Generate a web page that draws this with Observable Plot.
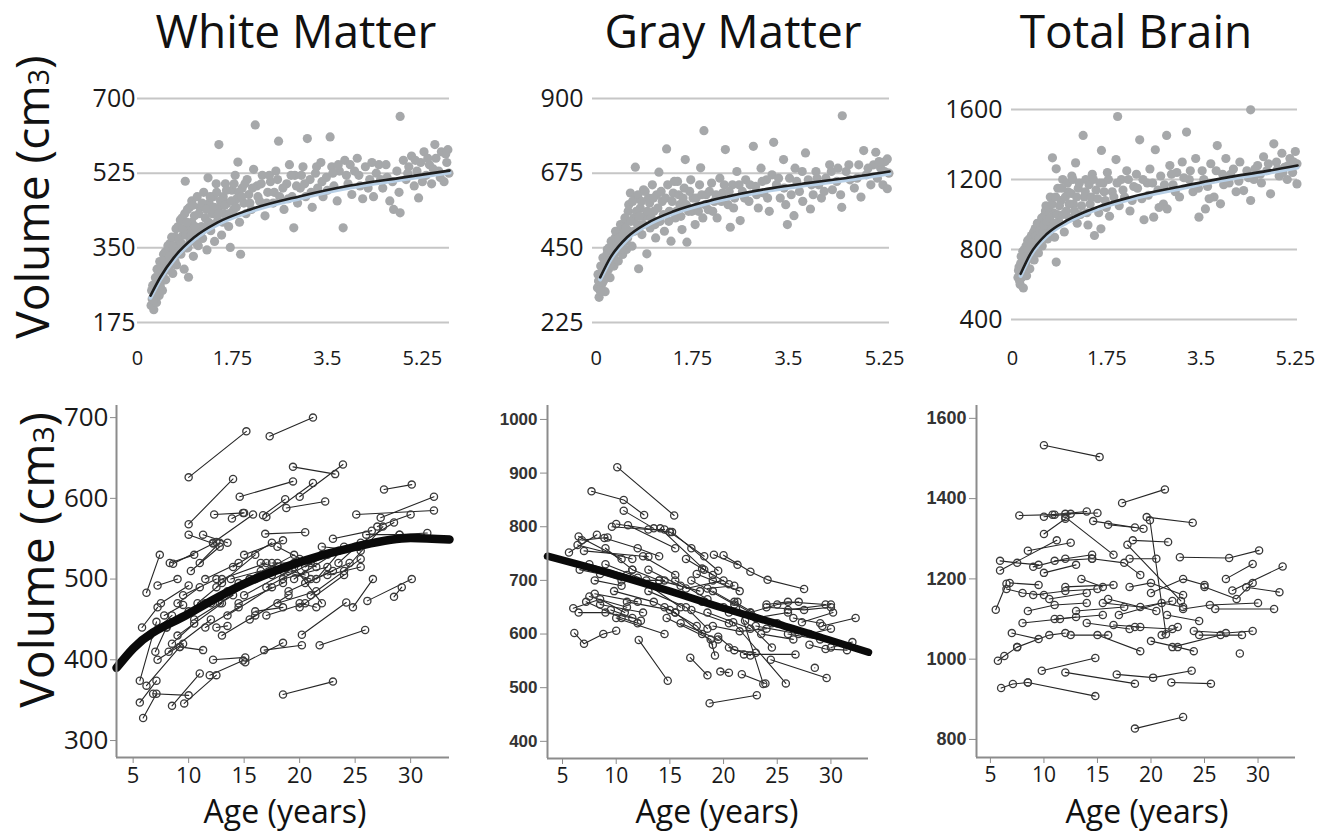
<!DOCTYPE html>
<html><head><meta charset="utf-8">
<script src="https://cdn.jsdelivr.net/npm/d3@7"></script>
<script src="https://cdn.jsdelivr.net/npm/@observablehq/plot@0.6"></script>
<style>
body{margin:0;background:#fff;}
#page{position:relative;width:1335px;height:833px;overflow:hidden;font-family:"Open Sans",sans-serif;background:#fff;}
#labels{position:absolute;left:0;top:0;pointer-events:none;}
</style></head>
<body><div id="page"></div>
<script>
// ---------- top row: cross-sectional infant scans (age in years, volume cm3) ----------
const topXTicks = [0, 1.75, 3.5, 5.25];
const wmTicks = [175, 350, 525, 700];
const gmTicks = [225, 450, 675, 900];
const tbTicks = [400, 800, 1200, 1600];

const wmPoints = [[0.25,215],[0.27,230],[0.28,262],[0.30,205],[0.31,245],[0.33,280],[0.35,222],[0.36,300],[0.38,255],[0.40,238],[0.41,318],[0.43,270],[0.45,290],[0.46,250],[0.48,335],[0.50,305],[0.52,275],[0.55,320],[0.57,345],[0.58,298],
[0.60,360],[0.62,330],[0.65,290],[0.67,345],[0.70,375],[0.72,310],[0.75,400],[0.77,355],[0.80,335],[0.82,420],[0.84,380],[0.86,300],[0.88,506],[0.90,350],[0.92,440],[0.94,281],[0.95,395],[0.97,365],[1.0,410],[1.0,460],
[1.03,330],[1.05,425],[1.08,390],[1.1,470],[1.12,355],[1.15,445],[1.18,400],[1.2,372],[1.22,480],[1.25,420],[1.28,345],[1.3,514],[1.32,455],[1.35,390],[1.38,430],[1.4,470],[1.42,365],[1.45,500],[1.48,415],[1.5,592],[1.5,445],
[1.55,380],[1.58,470],[1.6,430],[1.62,500],[1.65,455],[1.68,400],[1.71,351],[1.74,485],[1.77,440],[1.8,520],[1.83,465],[1.85,551],[1.88,410],[1.9,335],[1.93,490],[1.96,455],[2.0,430],[2.02,510],[2.05,475],
[2.1,440],[2.14,534],[2.17,638],[2.2,495],[2.25,460],[2.3,520],[2.35,425],[2.4,480],[2.45,505],[2.5,455],[2.55,530],[2.6,600],[2.62,470],[2.7,440],[2.75,500],[2.8,545],[2.85,470],[2.88,397],[2.9,520],[2.95,455],[3.0,490],
[3.05,540],[3.1,470],[3.13,606],[3.18,510],[3.22,445],[3.28,525],[3.32,490],[3.38,550],[3.42,470],[3.48,515],[3.55,610],[3.58,540],[3.62,495],[3.68,460],[3.72,530],[3.79,397],[3.82,555],[3.88,500],[3.95,475],
[4.0,530],[4.05,560],[4.1,495],[4.15,465],[4.2,540],[4.28,510],[4.35,470],[4.4,525],[4.45,545],[4.52,490],[4.6,515],[4.65,460],[4.72,440],[4.78,530],[4.84,432],[4.84,658],[4.9,555],
[4.95,510],[5.0,540],[5.05,565],[5.1,495],[5.15,530],[5.18,467],[5.22,550],[5.28,575],[5.32,520],[5.38,545],[5.42,500],[5.48,592],[5.5,560],[5.55,530],[5.6,575],[5.65,505],[5.7,550],[5.72,580],[5.74,525],
[0.26,250],[0.29,228],[0.32,265],[0.34,240],[0.37,282],[0.39,300],[0.42,260],[0.44,310],[0.47,285],[0.49,320],[0.51,340],[0.53,300],[0.56,355],[0.59,330],[0.61,310],[0.63,375],[0.66,355],[0.69,320],[0.71,395],[0.74,340],[0.76,370],[0.79,415],[0.81,360],[0.83,395],[0.87,430],[0.89,380],[0.91,410],[0.93,350],[0.96,445],[0.99,380],
[1.02,450],[1.06,400],[1.09,360],[1.13,430],[1.16,385],[1.19,455],[1.23,395],[1.27,440],[1.31,410],[1.34,470],[1.37,405],[1.41,445],[1.46,480],[1.49,430],[1.53,460],[1.57,410],[1.61,450],[1.64,485],[1.69,430],[1.73,460],[1.78,500],[1.82,445],[1.86,480],[1.92,470],[1.98,500],
[2.07,455],[2.12,490],[2.22,470],[2.28,500],[2.38,455],[2.43,520],[2.52,480],[2.58,510],[2.68,490],[2.78,465],[2.83,520],[2.93,495],[3.02,520],[3.08,500],[3.2,480],[3.3,540],[3.4,505],[3.5,485],[3.6,525],[3.7,545],[3.85,520],[3.92,545],[4.08,520],[4.25,490],[4.32,550],[4.48,510],[4.58,545],[4.7,505],[4.82,480],[4.98,525],[5.12,555],[5.25,505],[5.35,560],[5.45,535],[5.58,515],[5.68,570]];
const wmCurve = [[0.24,238],[0.42,281],[0.67,327],[1.04,374],[1.47,409],[2.08,440],[3.0,471],[3.92,496],[4.84,514],[5.75,531]];

const gmPoints = [[0.02,330],[0.03,370],[0.05,301],[0.06,350],[0.08,395],[0.10,340],[0.12,420],[0.14,372],[0.16,318],[0.18,400],[0.20,445],[0.22,385],[0.25,360],[0.27,470],[0.29,420],[0.32,395],[0.34,480],[0.37,440],[0.40,410],[0.42,500],[0.45,460],[0.48,430],[0.5,520],[0.53,470],[0.55,445],[0.58,560],[0.6,500],[0.62,615],[0.65,455],[0.68,540],[0.71,693],[0.72,600],[0.75,520],[0.77,387],[0.8,570],[0.83,490],[0.86,625],[0.88,545],[0.92,432],[0.95,600],[0.98,510],
[1.02,640],[1.05,560],[1.08,480],[1.1,610],[1.14,678],[1.16,530],[1.2,590],[1.24,500],[1.28,748],[1.3,640],[1.33,560],[1.36,470],[1.4,615],[1.44,540],[1.48,650],[1.52,580],[1.56,505],[1.6,630],[1.62,716],[1.65,467],[1.68,560],[1.72,655],[1.76,600],[1.8,520],[1.84,575],[1.88,640],[1.9,691],[1.94,540],[1.96,803],[2.0,610],[2.04,565],
[2.1,645],[2.15,590],[2.2,540],[2.25,660],[2.3,615],[2.35,746],[2.4,580],[2.44,512],[2.48,640],[2.52,600],[2.56,680],[2.62,532],[2.66,620],[2.72,655],[2.78,590],[2.86,756],[2.9,635],[2.95,570],[3.0,690],
[3.05,615],[3.1,655],[3.15,560],[3.23,768],[3.28,640],[3.35,600],[3.41,716],[3.45,580],[3.48,520],[3.52,660],[3.6,547],[3.62,690],[3.7,620],[3.76,590],[3.81,736],[3.86,655],[3.9,567],[3.95,610],
[4.0,680],[4.05,640],[4.1,600],[4.18,660],[4.25,700],[4.3,625],[4.38,650],[4.45,610],[4.47,572],[4.48,848],[4.55,680],[4.62,655],[4.7,630],[4.78,700],[4.82,603],[4.87,743],[4.92,670],[5.0,640],[5.05,700],[5.09,738],[5.12,660],[5.18,690],[5.22,640],[5.26,710],[5.3,628],[5.3,718],[5.33,675],
[0.04,350],[0.07,320],[0.09,370],[0.11,395],[0.13,350],[0.15,410],[0.17,380],[0.19,430],[0.21,410],[0.23,450],[0.26,400],[0.28,440],[0.3,460],[0.33,430],[0.35,500],[0.38,460],[0.41,480],[0.44,520],[0.46,445],[0.49,490],[0.52,540],[0.54,510],[0.57,480],[0.59,580],[0.63,530],[0.66,590],[0.69,500],[0.73,560],[0.76,610],[0.79,545],[0.82,590],[0.85,520],[0.89,620],[0.93,560],[0.97,585],
[1.0,540],[1.04,600],[1.07,520],[1.12,570],[1.18,620],[1.22,550],[1.26,600],[1.32,530],[1.38,590],[1.42,650],[1.46,560],[1.5,610],[1.54,545],[1.58,600],[1.64,580],[1.7,620],[1.74,560],[1.82,600],[1.86,560],[1.92,610],[1.98,580],
[2.06,620],[2.12,560],[2.18,610],[2.28,590],[2.33,640],[2.42,620],[2.5,570],[2.6,640],[2.7,600],[2.8,640],[2.92,610],[3.02,650],[3.12,600],[3.2,670],[3.32,660],[3.42,630],[3.55,610],[3.65,650],[3.75,680],[3.92,640],[4.02,660],[4.15,620],[4.28,680],[4.4,690],[4.6,700],[4.75,660],[4.95,690],[5.15,710],[5.25,680]];
const gmCurve = [[0.07,361],[0.26,422],[0.56,482],[0.92,524],[1.41,560],[2.02,590],[2.6,612],[3.2,630],[3.84,645],[4.45,658],[5.34,680]];

const tbPoints = [[0.1,640],[0.12,700],[0.14,600],[0.16,760],[0.18,680],[0.2,580],[0.22,800],[0.24,720],[0.26,650],[0.28,850],[0.3,760],[0.32,690],[0.35,880],[0.38,800],[0.4,740],[0.42,920],[0.45,840],[0.48,780],[0.5,950],[0.52,880],[0.55,820],[0.58,990],[0.6,900],[0.62,1050],[0.65,860],[0.68,960],[0.7,1100],[0.72,920],[0.74,1324],[0.76,1010],[0.78,870],[0.81,1261],[0.81,728],[0.84,1150],[0.86,960],[0.9,1080],[0.93,1200],[0.96,900],[1.0,1020],
[1.03,1130],[1.06,980],[1.1,1220],[1.13,1060],[1.17,1295],[1.2,950],[1.22,1150],[1.26,1000],[1.31,1452],[1.33,1100],[1.36,1200],[1.4,940],[1.44,1060],[1.48,1230],[1.52,880],[1.55,1140],[1.6,1010],[1.64,918],[1.65,1366],[1.68,1180],[1.72,1080],[1.76,1240],[1.8,990],[1.85,1130],[1.92,1314],[1.95,1560],[1.98,1050],
[2.02,1200],[2.08,1100],[2.12,1250],[2.18,1020],[2.25,1160],[2.3,1230],[2.36,1427],[2.4,1090],[2.44,970],[2.5,1180],[2.55,1260],[2.62,985],[2.65,1370],[2.7,1140],[2.75,1220],[2.8,1060],[2.86,1452],[2.87,1032],[2.92,1280],[2.98,1170],
[3.05,1240],[3.1,1100],[3.15,1300],[3.23,1471],[3.28,1200],[3.35,1130],[3.4,1320],[3.46,985],[3.52,1250],[3.58,1032],[3.62,1160],[3.68,1290],[3.74,1100],[3.8,1394],[3.86,1061],[3.9,1230],[3.96,1320],
[4.02,1180],[4.1,1260],[4.15,1130],[4.22,1300],[4.29,1137],[4.35,1250],[4.42,1598],[4.42,1080],[4.48,1200],[4.55,1280],[4.6,1230],[4.66,1330],[4.72,1250],[4.79,1118],[4.85,1404],[4.9,1300],[4.95,1220],[5.0,1350],[5.05,1270],[5.1,1200],[5.15,1320],[5.2,1240],[5.25,1360],[5.28,1175],[5.28,1290],
[0.11,680],[0.13,620],[0.15,720],[0.17,640],[0.19,790],[0.21,700],[0.23,760],[0.25,820],[0.27,740],[0.29,800],[0.31,860],[0.34,770],[0.36,840],[0.39,900],[0.41,820],[0.44,880],[0.46,950],[0.49,860],[0.51,910],[0.54,980],[0.56,900],[0.59,940],[0.61,1020],[0.64,960],[0.67,1040],[0.69,980],[0.73,1060],[0.77,950],[0.8,1100],[0.83,1000],[0.87,1050],[0.91,1150],[0.94,1000],[0.98,1100],
[1.02,1180],[1.05,1060],[1.09,1120],[1.12,1200],[1.15,1020],[1.19,1100],[1.24,1180],[1.28,1050],[1.35,1130],[1.38,1010],[1.42,1170],[1.46,1100],[1.5,1200],[1.58,1090],[1.62,1180],[1.7,1130],[1.74,1040],[1.78,1200],[1.88,1100],[1.94,1180],
[2.05,1140],[2.15,1200],[2.22,1080],[2.32,1150],[2.42,1200],[2.52,1110],[2.6,1180],[2.72,1040],[2.82,1170],[2.95,1230],[3.02,1130],[3.18,1210],[3.3,1250],[3.45,1150],[3.55,1200],[3.65,1090],[3.78,1250],[3.92,1170],[4.05,1230],[4.2,1190],[4.38,1210],[4.5,1260],[4.62,1180],[4.75,1290],[4.92,1260],[5.02,1240],[5.12,1280],[5.22,1300]];
const tbCurve = [[0.15,661],[0.33,775],[0.64,890],[1.01,966],[1.57,1042],[2.19,1099],[3.12,1160],[4.04,1215],[4.66,1245],[5.29,1280]];

// ---------- bottom row: longitudinal scans (age, volume, age, volume, ...) per subject ----------
const bottomXTicks = [5, 10, 15, 20, 25, 30];
const wmBottomTicks = [300, 400, 500, 600, 700];
const gmBottomTicks = [400, 500, 600, 700, 800, 900, 1000];
const tbBottomTicks = [800, 1000, 1200, 1400, 1600];

const wmTracks = [[10.0,626,15.2,683],[17.3,677,21.2,700],[19.4,639,23.2,630],[20.0,602,23.9,642],[10.0,568,14.0,624],[14.6,602,19.4,621],[17.0,577,21.2,619],[13.9,575,14.9,582],[25.1,580,32.1,585],[27.6,611,30.1,617],[27.3,576,32.1,602],[16.7,579,18.7,599],[18.8,588,22.3,596],[16.9,556,20.5,558],[10.0,555,12.2,544],[6.2,483,7.4,530],[8.6,519,12.5,546],[5.6,374,7.1,447],[5.6,347,7.1,374],[5.9,328,7.1,358],[6.2,368,9.2,416],[6.8,358,10.0,356],[8.5,343,11.0,383],[9.6,346,12.5,381],[11.9,381,14.9,399],[12.2,400,15.1,403],[15.1,397,18.5,421],[16.8,412,20.2,418],[18.5,357,23.0,373],[21.8,418,25.9,437],[20.2,431,24.2,471],[24.8,465,26.6,500],[26.1,473,30.1,500],[28.5,478,29.2,490],[9.2,416,11.3,412],
[7.5,470,10.0,492],[7.8,455,9.5,468],[8.3,520,10.5,530],[8.0,440,11.5,470],[8.5,420,10.5,445],[8.2,410,12.0,450],[9.0,430,13.0,470],[9.5,480,12.5,500],[10.0,460,13.5,485],[10.2,510,12.8,540],[10.5,450,14.0,480],[11.0,520,12.8,545],[11.5,440,14.5,465],[12.0,470,15.5,500],[12.5,440,13.5,442],[12.5,490,16.0,530],[13.0,500,17.0,520],[13.5,455,17.5,490],[14.0,515,17.5,545],[14.5,470,18.5,495],[15.0,480,19.0,510],[15.0,530,18.5,548],[15.5,500,19.5,530],[16.0,460,18.5,465],[16.5,520,20.5,505],[17.0,490,21.0,520],[17.5,505,22.0,530],[18.0,470,21.5,485],[18.0,540,21.5,515],[18.5,500,22.5,515],[19.0,485,23.0,510],[19.5,515,22.0,470],[20.0,465,24.0,505],[20.5,495,24.5,520],[21.0,480,25.5,525],[22.0,540,25.5,535],[22.5,505,25.5,515],[23.0,550,26.5,560],[24.0,510,27.5,565],[25.0,540,28.5,570],[26.0,555,29.0,555],[27.0,565,30.0,580],[29.0,555,31.5,557],[11.3,555,13.5,545],[5.8,440,7.2,465],[7.2,400,9.5,420],[12.3,580,15.0,582],[7.2,492,9.0,500],[12.2,545,15.8,580],
[9.0,470,11.0,490],[10.8,470,13.0,495],[11.5,500,14.5,520],[12.8,470,16.5,505],[13.8,500,16.5,510],[14.5,495,18.0,520],[16.0,500,20.0,525],[17.5,520,19.5,520],[18.5,510,21.0,500],[19.5,500,23.5,535],[20.5,515,22.5,530],[21.5,500,24.0,540],[23.5,520,25.5,545],[15.5,450,19.0,480],[13.0,430,16.0,455],[17.0,455,20.5,470],[20.0,470,21.5,465],[6.5,430,8.5,455],[7.0,410,8.0,440]];
const wmFit = [[3.5,390],[5,414],[10,457],[15,494],[20,521],[25,540],[30,551],[33.5,549]];

const gmTracks = [[10.1,911,15.4,821],[7.7,866,10.7,850,12.6,822],[10.7,830,13.5,797],[9.6,800,13.0,795,14.5,795],[10.0,805,15.0,790],[11.1,803,15.5,760],[15.0,790,18.2,745],[19.1,748,21.3,729],[20.0,747,22.5,716,24.1,701,27.5,684],[6.5,782,10.5,740],[5.6,752,8.2,785],[6.4,766,11.5,740],[6.8,775,9.2,780],[8.9,779,12.0,760,14.0,745],[6.6,720,8.5,712,10.5,700],[7.5,730,11.0,710],[9.0,730,12.8,700,14.5,700],[7.0,755,13.0,744],[12.5,745,15.5,710],[14.1,797,18.2,720],[15.2,790,17.0,760,19.5,718],[17.5,712,19.0,700,21.5,680],[16.5,685,20.0,700],[18.0,722,20.5,693],[14.0,700,17.8,680],[12.0,705,16.0,650],
[6.0,648,8.5,665,10.8,640],[6.5,640,9.0,640,11.5,630],[7.5,670,11.0,650],[8.0,675,12.0,660],[7.2,660,10.5,630,12.0,620],[8.5,655,12.5,640],[9.5,645,12.3,625],[10.0,630,14.5,600],[11.0,660,15.0,645],[9.8,680,13.5,660,15.5,640],[6.1,602,7.0,582,8.8,600,10.0,606],[12.1,589,14.8,513],[14.5,650,17.5,615,19.0,580],[14.7,630,18.8,590,19.2,560],[15.5,640,18.0,600],[16.0,620,19.5,590],[16.9,556,18.5,523],[18.7,471,23.1,486],[19.7,530,20.5,528],[21.7,525,23.9,508],[24.4,552,29.6,518],[28.5,537],[21.9,562,26.7,562],[21.3,660,23.7,507],[22.0,625,24.5,575],[20.9,622,25.8,508],[18.5,640,22.5,610],[20.0,650,23.0,630,26.0,640],[22.5,640,25.0,655,27.0,660],[24.0,650,27.5,645,30.0,650],[25.0,620,28.0,600,30.0,610],[27.3,622,30.2,640],[29.2,615,32.3,630],[28.0,580,29.5,572,31.5,570],[26.0,600,29.0,590],[30.0,575,32.0,585],[23.5,600,26.5,590],[19.0,615,21.5,605,24.0,610],[17.0,645,20.5,620],[13.0,680,16.5,650,18.5,610],[24.0,655,26.0,660,29.5,655],[26.0,645,30.0,655],[20.5,575,22.5,560],[19.5,595,21.0,570,23.0,565],[18.5,685,21.0,690],
[11.5,720,14.0,700],[13.0,720,16.0,690],[15.5,700,18.5,665],[17.0,700,21.0,655],[19.0,680,22.5,640],[21.0,660,24.5,620],[8.0,700,10.5,690],[9.0,760,11.5,720],[16.5,740,19.0,710],[23.0,615,27.0,600],[26.5,630,29.0,620],[18.0,660,20.5,640]];
const gmFit = [[3.6,745],[10,710],[15,680],[20,648],[25,619],[30,588],[33.5,566]];

const tbTracks = [[10.0,1533,15.2,1504],[17.3,1389,21.3,1423],[7.7,1358,11.0,1360],[10.0,1355,12.5,1362],[10.8,1360,14.0,1368],[12.0,1362,15.0,1364],[10.0,1312,12.0,1350],[14.6,1344,19.3,1325],[16.0,1335,18.5,1328],[19.6,1354,23.9,1340],[19.9,1346,21.4,1062],[12.0,1354,16.5,1260],[18.3,1296,21.6,1292],[17.8,1285,22.8,1145],[22.7,1254,27.3,1252,30.1,1271],[27.0,1200,29.5,1237],[27.6,1171,32.3,1231],[28.9,1179,32.0,1167],[5.9,1221,11.2,1296],[5.9,1245,7.5,1240,9.5,1235],[8.5,1270,12.5,1290],[9.0,1230,12.0,1250,14.5,1260],[10.0,1215,13.0,1235],[5.5,1123,6.5,1188],[6.5,1175,8.0,1165,10.0,1160],[6.8,1190,9.5,1185],[5.7,996,6.3,1008,7.5,1030],[6.0,928,7.1,938,8.5,942],[8.5,942,14.8,908],[9.8,971,14.8,1003],[12.0,967,18.5,939],[16.8,962,20.2,954,23.8,971],[21.9,942,25.6,939],[18.5,827,23.0,856],[28.3,1014],
[7.5,1030,10.5,1060,12.0,1065],[7.0,1065,9.5,1050],[8.0,1090,11.5,1100,13.0,1105],[8.5,1120,11.0,1135,14.0,1140],[9.0,1160,12.0,1170,15.0,1175],[10.5,1150,14.0,1165],[11.0,1100,15.5,1110],[12.0,1180,16.5,1185],[13.0,1120,17.5,1130],[14.0,1090,18.0,1075],[15.0,1060,19.0,1020],[15.5,1140,19.0,1130,22.0,1145],[16.0,1150,20.5,1120],[17.0,1110,21.0,1140,23.0,1130],[18.0,1180,20.0,1190,23.0,1160],[18.5,1080,22.0,1075],[20.0,1045,22.5,1030,24.0,1020],[20.0,1165,23.0,1200,25.0,1185],[21.5,1110,24.5,1095],[22.0,1030,26.5,1060],[23.0,1125,25.5,1135,30.0,1140],[24.0,1070,27.0,1065,29.5,1070],[25.0,1180,28.0,1150,29.5,1190],[26.0,1125,31.5,1125],[24.5,1060,28.5,1060],[13.5,1200,15.5,1180],[14.5,1250,17.5,1240,19.0,1210],[18.0,1250,20.5,1250],[11.0,1245,14.5,1250],[12.5,1060,16.0,1060],[16.5,1085,19.0,1080],[21.0,1060,22.5,1080]];

// ---------- drawing ----------
const page = document.getElementById("page");
const FONT = "Open Sans";

function place(svg, left, top) {
  svg.style.position = "absolute";
  svg.style.left = left + "px";
  svg.style.top = top + "px";
  svg.style.margin = "0";
  page.appendChild(svg);
}

function topPanel(o) {
  const data = o.pts.map(([x, y]) => ({x, y}));
  const cv = o.curve.map(([x, y]) => ({x, y}));
  return Plot.plot({
    width: o.width, height: 290,
    marginLeft: o.mL, marginRight: o.mR, marginTop: o.mT, marginBottom: o.mB,
    style: {fontFamily: FONT, background: "transparent", overflow: "visible"},
    x: {domain: o.xDomain}, y: {domain: o.yDomain},
    marks: [
      Plot.ruleY(o.yTicks, {stroke: "#c6c6c6", strokeWidth: 2}),
      Plot.axisY({ticks: o.yTicks, tickSize: 0, tickPadding: o.yPad, fontSize: 25, fontFamily: FONT, color: "#1a1a1a", label: null, tickFormat: d => String(d)}),
      Plot.axisX({ticks: topXTicks, tickSize: 0, tickPadding: o.xPad, fontSize: 20, fontFamily: FONT, color: "#1a1a1a", label: null, tickFormat: d => String(d)}),
      Plot.dot(data, {x: "x", y: "y", r: 4.6, fill: "#a6a8aa"}),
      Plot.line(cv, {x: "x", y: "y", curve: "monotone-x", stroke: "#b7cfe6", strokeWidth: 4, dy: 2}),
      Plot.line(cv, {x: "x", y: "y", curve: "monotone-x", stroke: "#1e1e1e", strokeWidth: 2.6})
    ]
  });
}

function rowsOf(tracks) {
  const rows = [];
  tracks.forEach((t, i) => {
    for (let j = 0; j < t.length; j += 2) rows.push({id: i, age: t[j], vol: t[j + 1]});
  });
  return rows;
}

function bottomPanel(o) {
  const rows = rowsOf(o.tracks);
  const marks = [
    Plot.line(rows, {x: "age", y: "vol", z: "id", stroke: "#262626", strokeWidth: 1.1}),
    Plot.dot(rows, {x: "age", y: "vol", r: 3.6, stroke: "#3a3a3a", strokeWidth: 1.3, fill: "none"})
  ];
  if (o.fit) {
    marks.push(Plot.line(o.fit.map(([x, y]) => ({x, y})), {x: "x", y: "y", curve: "monotone-x", stroke: "#0a0a0a", strokeWidth: o.fitWidth}));
  }
  marks.push(
    Plot.ruleX([o.xDomain[0]], {stroke: "#8c8c8c", strokeWidth: 2}),
    Plot.ruleY([o.yDomain[0]], {stroke: "#8c8c8c", strokeWidth: 2}),
    Plot.axisY({ticks: o.yTicks, tickSize: o.yTickSize, tickPadding: o.yPad, fontSize: o.yFont, fontFamily: o.yFamily, fontWeight: o.yWeight, color: o.yColor, stroke: "#8c8c8c", label: null, tickFormat: d => String(d)}),
    Plot.axisX({ticks: bottomXTicks, tickSize: 6, tickPadding: o.xPad, fontSize: o.xFont, fontFamily: FONT, color: "#1a1a1a", stroke: "#8c8c8c", label: null, tickFormat: d => String(d)})
  );
  return Plot.plot({
    width: o.width, height: 440,
    marginLeft: o.mL, marginRight: o.mR, marginTop: 15, marginBottom: o.mB,
    style: {fontFamily: FONT, background: "transparent", overflow: "visible"},
    x: {domain: o.xDomain}, y: {domain: o.yDomain},
    marks
  });
}

place(topPanel({pts: wmPoints, curve: wmCurve, xDomain: [0, 5.75], yDomain: [175, 700], yTicks: wmTicks,
  width: 460, mL: 137, mR: 11, mT: 18, mB: 48, yPad: 2, xPad: 28}), 0, 80);
place(topPanel({pts: gmPoints, curve: gmCurve, xDomain: [-0.07, 5.34], yDomain: [225, 900], yTicks: gmTicks,
  width: 440, mL: 132, mR: 11, mT: 18, mB: 48, yPad: 9, xPad: 28}), 460, 80);
place(topPanel({pts: tbPoints, curve: tbCurve, xDomain: [-0.02, 5.29], yDomain: [400, 1600], yTicks: tbTicks,
  width: 435, mL: 111, mR: 38, mT: 29, mB: 51, yPad: 9, xPad: 31}), 900, 80);

place(bottomPanel({tracks: wmTracks, fit: wmFit, fitWidth: 8.5, xDomain: [3.5, 33.5], yDomain: [279, 715], yTicks: wmBottomTicks,
  width: 460, mL: 116, mR: 11, mB: 73, yTickSize: 6, yPad: 2, yFont: 26, yFamily: FONT, yWeight: "normal", yColor: "#1a1a1a", xPad: 4, xFont: 22}), 0, 390);
place(bottomPanel({tracks: gmTracks, fit: gmFit, fitWidth: 7.5, xDomain: [3.6, 33.5], yDomain: [368, 1026], yTicks: gmBottomTicks,
  width: 440, mL: 87, mR: 32, mB: 72, yTickSize: 7, yPad: 3, yFont: 17, yFamily: "Liberation Sans", yWeight: "bold", yColor: "#333", xPad: 4, xFont: 21}), 460, 390);
place(bottomPanel({tracks: tbTracks, fit: null, xDomain: [3.7, 33.5], yDomain: [755, 1632], yTicks: tbBottomTicks,
  width: 435, mL: 76, mR: 40, mB: 73, yTickSize: 7, yPad: 3, yFont: 18, yFamily: "Liberation Sans", yWeight: "bold", yColor: "#333", xPad: 4, xFont: 21}), 900, 390);

// ---------- titles and axis labels (static text) ----------
const titles = [["White Matter", 296], ["Gray Matter", 733], ["Total Brain", 1136]];
const ageLabelX = [285, 717, 1147];
const NS = "http://www.w3.org/2000/svg";
const lab = document.createElementNS(NS, "svg");
lab.setAttribute("id", "labels");
lab.setAttribute("width", 1335);
lab.setAttribute("height", 833);
function addText(txt, x, y, size, extra) {
  const t = document.createElementNS(NS, "text");
  t.setAttribute("x", x); t.setAttribute("y", y);
  t.setAttribute("font-family", FONT);
  t.setAttribute("font-size", size);
  t.setAttribute("text-anchor", "middle");
  t.setAttribute("fill", "#111");
  if (extra) extra(t);
  if (txt !== null) t.textContent = txt;
  lab.appendChild(t);
  return t;
}
titles.forEach(([s, x]) => addText(s, x, 48, 46));
ageLabelX.forEach(x => addText("Age (years)", x, 823, 32));
function volumeLabel(cx, cy, size) {
  addText(null, 0, 0, size, t => {
    t.setAttribute("transform", `translate(${cx},${cy}) rotate(-90)`);
    t.appendChild(document.createTextNode("Volume (cm"));
    const s = document.createElementNS(NS, "tspan");
    s.setAttribute("font-size", size * 0.62);
    s.textContent = "3";
    t.appendChild(s);
    t.appendChild(document.createTextNode(")"));
  });
}
volumeLabel(49, 197, 46);
volumeLabel(54, 560, 48);
page.appendChild(lab);
</script>
</body></html>
